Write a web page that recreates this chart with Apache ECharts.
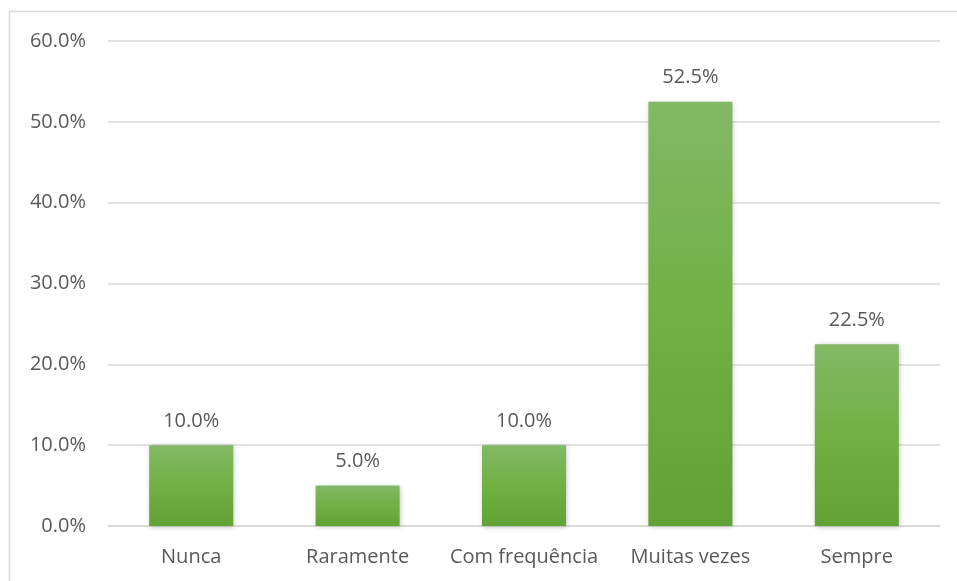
<!DOCTYPE html>
<html>
<head>
<meta charset="utf-8">
<script src="https://cdn.jsdelivr.net/npm/echarts@6/dist/echarts.min.js"></script>
<style>
  html, body { margin: 0; padding: 0; background: #ffffff; }
  #chart { width: 957px; height: 581px; }
</style>
</head>
<body>
<div id="chart"></div>
<script>
// Frequency categories and their shares (percent)
const categories = ['Nunca', 'Raramente', 'Com frequência', 'Muitas vezes', 'Sempre'];
const shares = [10.0, 5.0, 10.0, 52.5, 22.5];
const yTicks = { min: 0, max: 60, interval: 10 };

const textColor = '#595959';
const fontFamily = '"Open Sans", "Noto Sans", sans-serif';
const fontSize = 20;

const chart = echarts.init(document.getElementById('chart'), null, { renderer: 'canvas' });

chart.setOption({
  animation: false,
  backgroundColor: '#ffffff',
  graphic: [{
    type: 'rect',
    shape: { x: 9.5, y: 11.5, width: 1000, height: 700 },
    style: { fill: 'none', stroke: '#d9d9d9', lineWidth: 1.5 },
    silent: true,
    z: -1
  }],
  grid: { left: 108, right: 17, top: 41, bottom: 55, containLabel: false },
  xAxis: {
    type: 'category',
    data: categories,
    axisLine: { show: true, lineStyle: { color: '#d9d9d9', width: 1.5 } },
    axisTick: { show: false },
    axisLabel: { color: textColor, fontSize: fontSize, fontFamily: fontFamily, margin: 21, interval: 0 }
  },
  yAxis: {
    type: 'value',
    min: yTicks.min,
    max: yTicks.max,
    interval: yTicks.interval,
    axisLine: { show: false },
    axisTick: { show: false },
    splitLine: { lineStyle: { color: '#d9d9d9', width: 1.5 } },
    axisLabel: {
      color: textColor, fontSize: fontSize, fontFamily: fontFamily, margin: 22,
      formatter: v => v.toFixed(1) + '%'
    }
  },
  series: [{
    type: 'bar',
    data: shares,
    barWidth: '50.5%',
    itemStyle: {
      color: new echarts.graphic.LinearGradient(0, 0, 0, 1, [
        { offset: 0, color: '#83b866' },
        { offset: 0.5, color: '#71b043' },
        { offset: 1, color: '#62a133' }
      ]),
      shadowColor: 'rgba(0,0,0,0.25)',
      shadowBlur: 5,
      shadowOffsetX: 1,
      shadowOffsetY: 1
    },
    label: {
      show: true,
      position: 'top',
      distance: 14,
      color: textColor,
      fontSize: fontSize,
      fontFamily: fontFamily,
      formatter: p => p.value.toFixed(1) + '%'
    }
  }]
});
</script>
</body>
</html>
